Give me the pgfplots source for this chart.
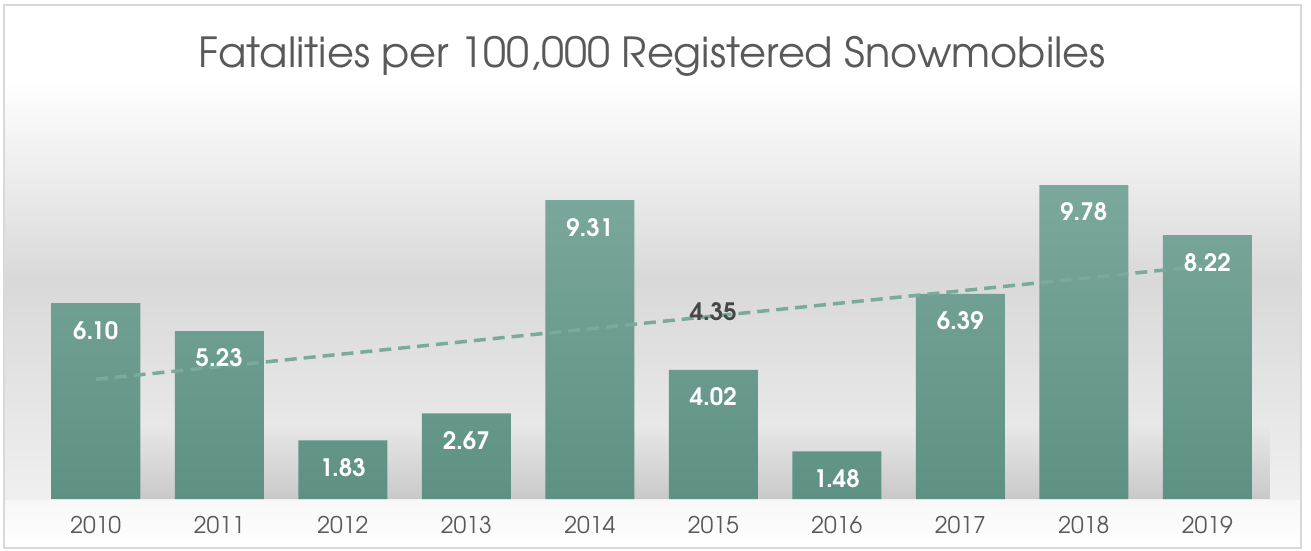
\documentclass[border=0pt]{standalone}
\usepackage{pgfplots}
\pgfplotsset{compat=1.18}
\usetikzlibrary{fadings}
\usepackage{fontspec}
\setmainfont{TeX Gyre Adventor}
\definecolor{barTop}{RGB}{123,168,156}
\definecolor{barBot}{RGB}{94,145,131}
\definecolor{txt}{RGB}{89,89,89}
\definecolor{trend}{RGB}{122,170,155}
\begin{document}
\begin{tikzpicture}[x=1pt,y=1pt]
\path[use as bounding box] (0,0) rectangle (1311,550);
\fill[white] (0,0) rectangle (1311,550);
\shade[top color=white,bottom color=black!15] (5,270) rectangle (1300,470);
\shade[top color=black!15,bottom color=black!6] (5,50) rectangle (1300,270);
\shade[top color=black!3,bottom color=white] (5,2) rectangle (1300,50);
\fill[black, path fading=north, opacity=0.16] (60,51) rectangle (1272,125);
\draw[black!15, line width=1.5pt] (4,2) rectangle (1301,545);
\node[txt, anchor=base, font=\fontsize{41.5}{50}\selectfont] at (652,482) {Fatalities per 100,000 Registered Snowmobiles};
\begin{axis}[
  at={(34pt,51pt)}, anchor=south west,
  scale only axis, width=1235pt, height=385.2pt,
  xmin=-0.5, xmax=9.5, ymin=0, ymax=12,
  axis line style={draw=none},
  major tick length=0pt,
  ytick=\empty,
  xtick={0,...,9},
  xticklabels={2010,2011,2012,2013,2014,2015,2016,2017,2018,2019},
  xticklabel style={txt, font=\fontsize{23}{26}\selectfont, yshift=-14pt},
  clip=false,
]
\addplot[ybar, bar width=89pt, draw=none, top color=barTop, bottom color=barBot]
  coordinates {(0,6.10) (1,5.23) (2,1.83) (3,2.67) (4,9.31) (5,4.02) (6,1.48) (7,6.39) (8,9.78) (9,8.22)};
\addplot[trend, line width=3.5pt, dash pattern=on 12pt off 7pt] coordinates {(0,3.73) (9,7.27)};
\addplot[draw=none, mark=none, point meta=explicit symbolic, nodes near coords,
  nodes near coords style={white, font=\bfseries\fontsize{24}{26}\selectfont, anchor=center, yshift=-27pt}]
  coordinates {(0,6.10)[6.10] (1,5.23)[5.23] (2,1.83)[1.83] (3,2.67)[2.67] (4,9.31)[9.31] (5,4.02)[4.02] (6,1.48)[1.48] (7,6.39)[6.39] (8,9.78)[9.78] (9,8.22)[8.22]};
\node[black!72, font=\bfseries\fontsize{24}{26}\selectfont] at (axis cs:5,5.83) {4.35};
\end{axis}
\end{tikzpicture}
\end{document}
